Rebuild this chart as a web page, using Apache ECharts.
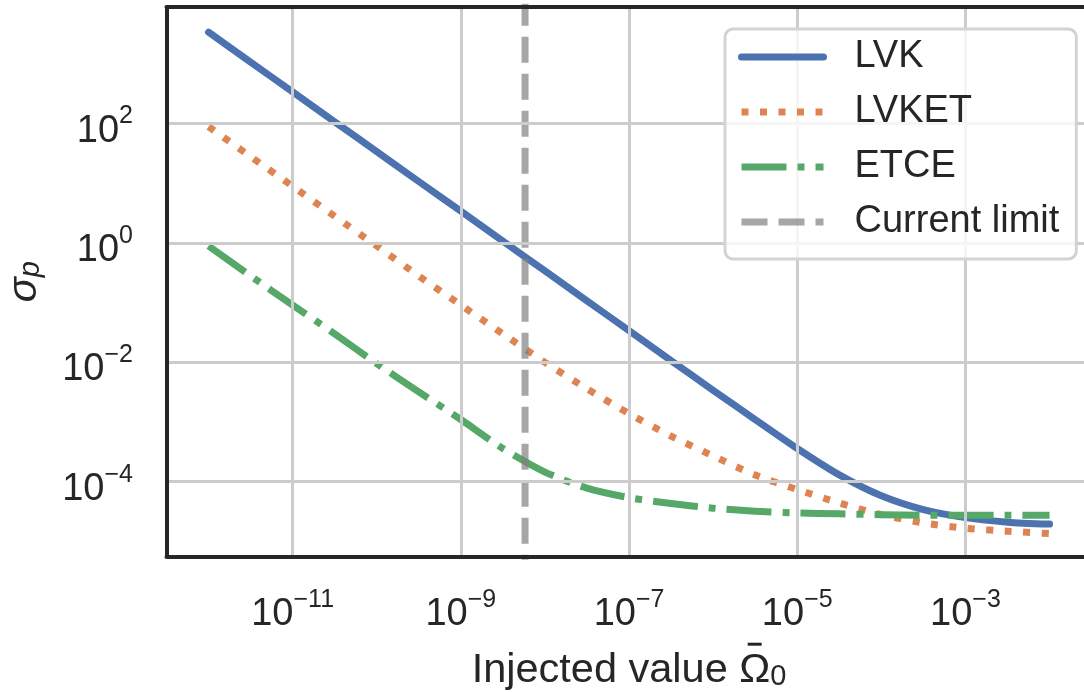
<!DOCTYPE html>
<html>
<head>
<meta charset="utf-8">
<script src="https://cdn.jsdelivr.net/npm/echarts@6/dist/echarts.min.js"></script>
<style>
  html, body { margin: 0; padding: 0; background: #ffffff; }
  #chart { width: 1084px; height: 692px; }
</style>
</head>
<body>
<div id="chart"></div>
<script>
// Injected amplitude values (half-decade steps)
const omega = [1e-12, 3.16e-12, 1e-11, 3.16e-11, 1e-10, 3.16e-10, 1e-9, 3.16e-9, 1e-8, 3.16e-8,
               1e-7, 3.16e-7, 1e-6, 3.16e-6, 1e-5, 3.16e-5, 1e-4, 3.16e-4, 1e-3, 3.16e-3, 1e-2];

// Recovered uncertainty sigma_p for each detector network
const sigmaLVK = [3.4e3, 1.07e3, 3.4e2, 1.07e2, 34, 10.7, 3.4, 1.07, 0.34, 0.107,
                  0.034, 0.0107, 3.4e-3, 1.1e-3, 3.6e-4, 1.3e-4, 5.8e-5, 3.4e-5, 2.5e-5, 2.1e-5, 1.95e-5];
const sigmaLVKET = [89, 28, 8.9, 2.8, 0.89, 0.28, 0.091, 0.030, 0.010, 3.6e-3,
                    1.38e-3, 5.8e-4, 2.7e-4, 1.29e-4, 7.4e-5, 4.4e-5, 2.8e-5, 2.04e-5, 1.66e-5, 1.48e-5, 1.35e-5];
const sigmaETCE = [0.89, 0.28, 0.091, 0.030, 9.5e-3, 3.2e-3, 1.1e-3, 3.6e-4, 1.45e-4, 7.8e-5,
                   5.4e-5, 4.3e-5, 3.6e-5, 3.2e-5, 3.0e-5, 2.9e-5, 2.8e-5, 2.75e-5, 2.75e-5, 2.75e-5, 2.75e-5];

// Current upper limit on the amplitude
const currentLimit = 5.8e-9;

// Decade exponents that carry a label and a grid line
const xTickExps = [-11, -9, -7, -5, -3];
const yTickExps = [-4, -2, 0, 2];

const seriesNames = ['LVK', 'LVKET', 'ETCE', 'Current limit'];

const FONT = '"Liberation Sans", Arial, Helvetica, sans-serif';
const INK = '#262626';
const lg = Math.log10;
const pairs = ys => omega.map((x, i) => [lg(x), lg(ys[i])]);

// Axes run in log10 space; labels are written as powers of ten
function powLabel(ticks) {
  return v => {
    const e = Math.round(v);
    if (Math.abs(v - e) > 1e-6 || ticks.indexOf(e) < 0) return '';
    return '{b|10}{s|' + (e < 0 ? '\u2212' : '') + Math.abs(e) + '}';
  };
}
const richPow = {
  b: { fontFamily: FONT, fontSize: 38, lineHeight: 54, color: INK },
  s: { fontFamily: FONT, fontSize: 25, lineHeight: 10, verticalAlign: 'top', color: INK }
};

const frameLine = { show: true, onZero: false, lineStyle: { color: INK, width: 4 } };

const chart = echarts.init(document.getElementById('chart'), null, { renderer: 'canvas' });

chart.setOption({
  animation: false,
  backgroundColor: '#ffffff',
  grid: { left: 166.5, right: -7.6, top: 7.2, bottom: 135.7, containLabel: false, outerBoundsMode: 'none' },
  legend: {
    data: seriesNames,
    orient: 'vertical',
    left: 725,
    top: 29,
    padding: [8, 17, 17, 13],
    itemGap: 15,
    itemWidth: 82,
    itemHeight: 14,
    selectedMode: false,
    backgroundColor: 'rgba(255,255,255,0.8)',
    borderColor: '#d3d3d3',
    borderWidth: 3,
    borderRadius: 8,
    lineStyle: { width: 'inherit' },
    itemStyle: { color: 'rgba(0,0,0,0)', borderColor: 'rgba(0,0,0,0)', borderWidth: 0, opacity: 0 },
    textStyle: { fontFamily: FONT, fontSize: 38, lineHeight: 40, color: INK, padding: [0, 0, 0, 26] },
    z: 20
  },
  xAxis: [
    {
      type: 'value', min: -12.5, max: -1.5, interval: 0.5,
      axisLine: frameLine, axisTick: { show: false }, splitLine: { show: false },
      axisLabel: { formatter: powLabel(xTickExps), rich: richPow, margin: 31, color: INK },
      // first line carries the accent bar over the Omega
      name: '{gap| }{bar| }\n{t|Injected value \u03A9}{d|0}',
      nameLocation: 'middle', nameGap: 81.7,
      nameTextStyle: {
        rich: {
          gap: { width: 276, lineHeight: 10, align: 'left' },
          bar: { width: 14, height: 3, lineHeight: 3, backgroundColor: INK, color: INK, fontSize: 3, align: 'left', verticalAlign: 'middle' },
          t: { fontFamily: FONT, fontSize: 41.5, lineHeight: 42, color: INK, align: 'left' },
          d: { fontFamily: FONT, fontSize: 29, lineHeight: 14, verticalAlign: 'bottom', color: INK, align: 'left' }
        }
      },
      z: 10
    },
    {
      type: 'value', position: 'top', min: -12.5, max: -1.5,
      axisLine: frameLine, axisTick: { show: false }, splitLine: { show: false }, axisLabel: { show: false },
      z: 10
    }
  ],
  yAxis: [
    {
      type: 'value', min: -5.25, max: 3.95, interval: 0.25,
      axisLine: frameLine, axisTick: { show: false }, splitLine: { show: false },
      axisLabel: { formatter: powLabel(yTickExps), rich: richPow, margin: 33.5, padding: [15, 0, 0, 0], color: INK },
      name: '{i|\u03C3}{p|p}',
      nameLocation: 'middle', nameGap: 121,
      nameTextStyle: {
        rich: {
          i: { fontFamily: FONT, fontStyle: 'italic', fontSize: 41.5, lineHeight: 42, color: INK },
          p: { fontFamily: FONT, fontStyle: 'italic', fontSize: 29, lineHeight: 23, verticalAlign: 'bottom', color: INK }
        }
      },
      z: 10
    },
    {
      type: 'value', position: 'right', min: -5.25, max: 3.95,
      axisLine: frameLine, axisTick: { show: false }, splitLine: { show: false }, axisLabel: { show: false },
      z: 10
    }
  ],
  series: [
    {
      name: 'grid', type: 'line', data: [], silent: true, z: 1,
      markLine: {
        silent: true, symbol: ['none', 'none'], label: { show: false },
        lineStyle: { color: '#cccccc', width: 3, type: 'solid' },
        emphasis: { disabled: true },
        data: xTickExps.map(e => ({ xAxis: e })).concat(yTickExps.map(e => ({ yAxis: e })))
      }
    },
    {
      name: 'LVK', type: 'line', data: pairs(sigmaLVK), symbol: 'none', showSymbol: false, z: 3,
      smooth: 0.25,
      itemStyle: { color: '#4c72b0' },
      lineStyle: { color: '#4c72b0', width: 7, cap: 'round', join: 'round' }
    },
    {
      name: 'LVKET', type: 'line', data: pairs(sigmaLVKET), symbol: 'none', showSymbol: false, z: 3,
      smooth: 0.25,
      itemStyle: { color: '#dd8452' },
      lineStyle: { color: '#dd8452', width: 7, type: [7, 11.5], cap: 'butt', join: 'round' }
    },
    {
      name: 'ETCE', type: 'line', data: pairs(sigmaETCE), symbol: 'none', showSymbol: false, z: 3,
      smooth: 0.25,
      itemStyle: { color: '#55a868' },
      lineStyle: { color: '#55a868', width: 7, type: [45, 11, 7, 11], cap: 'butt', join: 'round' }
    },
    {
      name: 'Current limit', type: 'line', symbol: 'none', showSymbol: false, z: 4,
      data: [[lg(currentLimit), -10], [lg(currentLimit), 10]],
      itemStyle: { color: '#808080', opacity: 0.7 },
      lineStyle: { color: '#808080', opacity: 0.7, width: 7, type: [26, 11], cap: 'butt' }
    }
  ]
});
</script>
</body>
</html>
